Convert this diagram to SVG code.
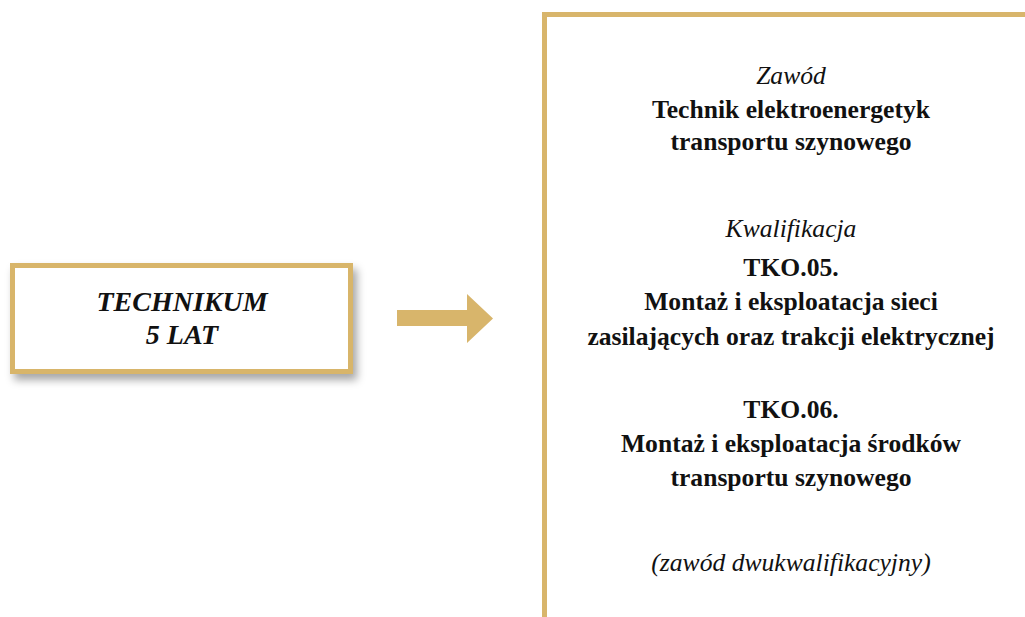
<svg xmlns="http://www.w3.org/2000/svg" width="1025" height="617" viewBox="0 0 1025 617">
<defs>
<style>
.b{font-family:"Liberation Serif","Times New Roman",serif;font-weight:bold;font-size:25.6px;fill:#111;text-anchor:middle}
.i{font-family:"Liberation Serif","Times New Roman",serif;font-style:italic;font-size:25.6px;fill:#111;text-anchor:middle}
.bi{font-family:"Liberation Serif","Times New Roman",serif;font-style:italic;font-weight:bold;font-size:28px;fill:#111;text-anchor:middle}
.frame{fill:#fff;stroke:#D8B56B;stroke-width:5}
</style>
<filter id="sh" x="-10%" y="-20%" width="130%" height="160%">
<feDropShadow dx="4" dy="6" stdDeviation="4" flood-color="#000" flood-opacity="0.35"/>
</filter>
</defs>
<rect width="1025" height="617" fill="#fff"/>
<g id="technikum">
<rect class="frame" x="12.5" y="265.5" width="338" height="106" filter="url(#sh)"/>
<text class="bi" x="182" y="311">TECHNIKUM</text>
<text class="bi" x="182" y="344">5 LAT</text>
</g>
<g id="connectors">
<polygon points="397,310 467,310 467,294 493,318.5 467,343 467,326 397,326" fill="#D8B56B"/>
</g>
<g id="zawod">
<path d="M544.5 617 V14.5 H1025" fill="none" stroke="#D8B56B" stroke-width="5"/>
<text class="i" x="791" y="84">Zawód</text>
<text class="b" x="791" y="118">Technik elektroenergetyk</text>
<text class="b" x="791" y="150">transportu szynowego</text>
<text class="i" x="791" y="237">Kwalifikacja</text>
<text class="b" x="791" y="276">TKO.05.</text>
<text class="b" x="791" y="310">Montaż i eksploatacja sieci</text>
<text class="b" x="791" y="345">zasilających oraz trakcji elektrycznej</text>
<text class="b" x="791" y="418">TKO.06.</text>
<text class="b" x="791" y="452">Montaż i eksploatacja środków</text>
<text class="b" x="791" y="486">transportu szynowego</text>
<text class="i" x="791" y="571">(zawód dwukwalifikacyjny)</text>
</g>
</svg>
